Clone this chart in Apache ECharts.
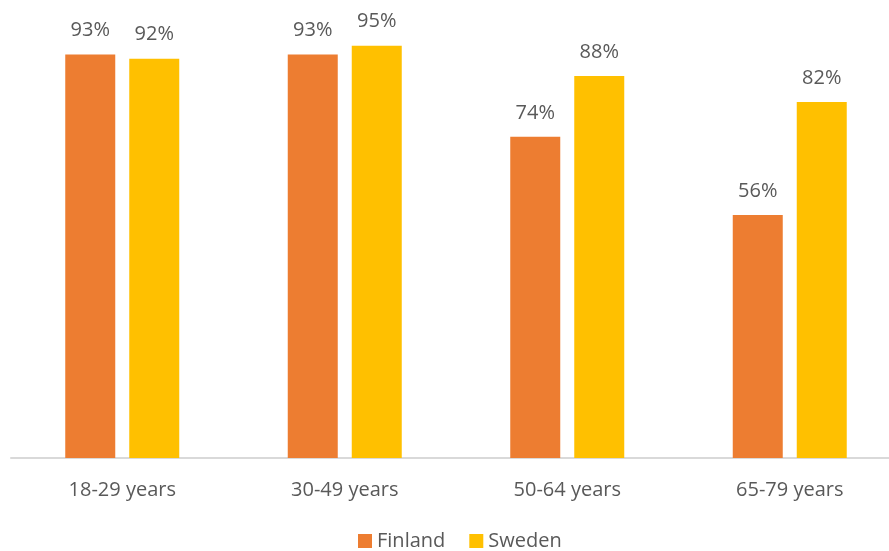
<!DOCTYPE html>
<html><head><meta charset="utf-8">
<script src="https://cdn.jsdelivr.net/npm/echarts@6/dist/echarts.min.js"></script>
<style>html,body{margin:0;padding:0;background:#fff}#c{width:889px;height:551px}</style>
</head><body><div id="c"></div>
<script>
const categories = ['18-29 years', '30-49 years', '50-64 years', '65-79 years'];
const finland = [93, 93, 74, 56];
const sweden = [92, 95, 88, 82];
const seriesNames = ['Finland', 'Sweden'];
const colors = ['#ED7D31', '#FFC000'];

const chart = echarts.init(document.getElementById('c'), null, {renderer: 'canvas'});
const font = '"Open Sans", "Noto Sans", sans-serif';
const lbl = {show: true, position: 'top', distance: 14, formatter: '{c}%', color: '#595959', fontSize: 20, fontFamily: font};
chart.setOption({
  animation: false,
  color: colors,
  grid: {left: 11, top: 24, width: 890, height: 434, containLabel: false, outerBoundsMode: 'none'},
  legend: {
    top: 526, left: 353, itemWidth: 14, itemHeight: 14, itemGap: 24, icon: 'rect',
    textStyle: {color: '#595959', fontSize: 20, fontFamily: font}
  },
  xAxis: {
    type: 'category', data: categories,
    axisLine: {lineStyle: {color: '#d9d9d9', width: 2}},
    axisTick: {show: false},
    axisLabel: {color: '#595959', fontSize: 20, fontFamily: font, margin: 22}
  },
  yAxis: {type: 'value', min: 0, max: 100, show: false, splitLine: {show: false}},
  series: [
    {name: seriesNames[0], type: 'bar', data: finland, barWidth: 50, barGap: '28%', label: lbl},
    {name: seriesNames[1], type: 'bar', data: sweden, barWidth: 50, barGap: '28%', label: lbl}
  ]
});
</script></body></html>
